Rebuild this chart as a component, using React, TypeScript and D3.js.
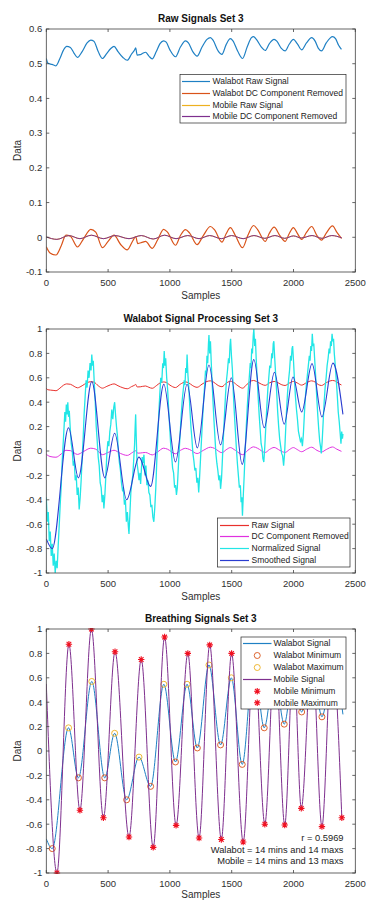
import React from 'react';
import * as d3 from 'd3';

type Pt = [number, number];

const FONT = '"Liberation Sans", Arial, Helvetica, sans-serif';

// ---------- ticks ----------
const xTicks = [0, 500, 1000, 1500, 2000, 2500];
const yTicksRaw = [-0.1, 0, 0.1, 0.2, 0.3, 0.4, 0.5, 0.6];
const yTicksUnit = [-1, -0.8, -0.6, -0.4, -0.2, 0, 0.2, 0.4, 0.6, 0.8, 1];

// ---------- titles / legends ----------
const titles = ['Raw Signals Set 3', 'Walabot Signal Processing Set 3', 'Breathing Signals Set 3'];
const legend1 = ['Walabot Raw Signal', 'Walabot DC Component Removed', 'Mobile Raw Signal', 'Mobile DC Component Removed'];
const legend2 = ['Raw Signal', 'DC Component Removed', 'Normalized Signal', 'Smoothed Signal'];
const legend3 = ['Walabot Signal', 'Walabot Minimum', 'Walabot Maximum', 'Mobile Signal', 'Mobile Minimum', 'Mobile Maximum'];
const annotations = ['r = 0.5969', 'Walabot = 14 mins and 14 maxs', 'Mobile = 14 mins and 13 maxs'];

// ---------- data ----------
const walabotRaw: Pt[] = [
  [0, 0.515], [12, 0.502], [35, 0.499], [55, 0.497], [78, 0.494], [110, 0.515], [140, 0.540], [165, 0.550],
  [195, 0.547], [225, 0.530], [252, 0.518], [290, 0.535], [330, 0.560], [360, 0.568], [385, 0.565], [420, 0.535],
  [454, 0.515], [490, 0.530], [520, 0.543], [548, 0.550], [580, 0.535], [620, 0.518], [655, 0.510], [690, 0.528],
  [715, 0.540], [723, 0.546], [735, 0.525], [760, 0.526], [780, 0.530], [803, 0.533], [830, 0.522], [857, 0.514],
  [890, 0.535], [920, 0.558], [949, 0.566], [970, 0.562], [1000, 0.540], [1045, 0.520], [1085, 0.548], [1126, 0.566],
  [1150, 0.560], [1185, 0.535], [1220, 0.522], [1260, 0.548], [1300, 0.570], [1328, 0.575], [1350, 0.567], [1390, 0.537],
  [1421, 0.527], [1455, 0.555], [1489, 0.572], [1510, 0.566], [1550, 0.535], [1588, 0.515], [1625, 0.548], [1660, 0.575],
  [1677, 0.578], [1700, 0.570], [1740, 0.548], [1771, 0.538], [1805, 0.558], [1843, 0.570], [1865, 0.565], [1900, 0.545],
  [1932, 0.537], [1965, 0.556], [1999, 0.570], [2030, 0.558], [2066, 0.540], [2105, 0.560], [2147, 0.575], [2175, 0.565],
  [2200, 0.545], [2227, 0.537], [2265, 0.560], [2316, 0.578], [2340, 0.572], [2365, 0.553], [2388, 0.541],
];

const walabotDc: Pt[] = [
  [0, -0.027], [30, -0.045], [78, -0.051], [120, -0.025], [159, 0.006], [195, 0.003], [252, -0.028], [300, -0.005],
  [360, 0.023], [400, 0.015], [454, -0.030], [500, -0.012], [548, 0.006], [600, -0.020], [655, -0.036], [700, -0.010],
  [723, 0.002], [740, -0.018], [780, -0.014], [803, -0.012], [857, -0.032], [900, -0.008], [949, 0.023], [980, 0.015],
  [1045, -0.023], [1085, 0.005], [1126, 0.022], [1160, 0.012], [1220, -0.021], [1270, 0.005], [1328, 0.031], [1360, 0.022],
  [1421, -0.014], [1455, 0.010], [1489, 0.028], [1530, 0.005], [1588, -0.030], [1630, 0.005], [1677, 0.034], [1710, 0.022],
  [1771, -0.012], [1805, 0.012], [1843, 0.029], [1890, 0.005], [1932, -0.012], [1965, 0.010], [1999, 0.028], [2030, 0.012],
  [2066, -0.006], [2105, 0.014], [2147, 0.031], [2190, 0.005], [2227, -0.008], [2265, 0.012], [2316, 0.033], [2350, 0.015],
  [2388, -0.003],
];

const mobileDc: Pt[] = [
  [0, 0.001], [86, -0.006], [183, 0.005], [272, -0.004], [365, 0.006], [462, -0.004], [556, 0.005], [669, -0.004],
  [768, 0.005], [865, -0.005], [957, 0.006], [1050, -0.004], [1145, 0.005], [1236, -0.004], [1322, 0.005], [1416, -0.004],
  [1499, 0.005], [1593, -0.004], [1680, 0.005], [1768, -0.003], [1850, 0.005], [1929, -0.003], [2000, 0.004], [2063, -0.002],
  [2150, 0.005], [2230, -0.003], [2310, 0.005], [2391, -0.002],
];

const mobileRaw: Pt[] = mobileDc;

const normalized: Pt[] = [
  [0, -0.38], [8, -0.58], [16, -0.5], [24, -0.74], [32, -0.66], [40, -0.86], [48, -0.76], [56, -0.94], [64, -0.84],
  [72, -1.0], [80, -0.9], [88, -0.96], [96, -0.78], [104, -0.62], [112, -0.45], [120, -0.3], [128, -0.1], [136, 0.05],
  [144, 0.2], [150, 0.32], [156, 0.24], [162, 0.38], [168, 0.3], [174, 0.4], [180, 0.28], [186, 0.33], [194, 0.18],
  [202, 0.06], [210, 0.0], [218, -0.12], [226, -0.08], [234, -0.24], [242, -0.2], [250, -0.36], [258, -0.3], [266, -0.48],
  [274, -0.38], [282, -0.24], [290, -0.06], [298, 0.1], [306, 0.3], [314, 0.44], [322, 0.58], [330, 0.52], [338, 0.66],
  [346, 0.6], [354, 0.72], [362, 0.66], [368, 0.79], [374, 0.7], [380, 0.74], [388, 0.56], [396, 0.4], [404, 0.2],
  [412, 0.08], [420, -0.05], [428, -0.12], [436, -0.26], [444, -0.3], [452, -0.42], [460, -0.36], [466, -0.47],
  [474, -0.36], [482, -0.2], [490, -0.02], [498, 0.08], [506, 0.04], [514, 0.16], [522, 0.22], [530, 0.34], [538, 0.26],
  [546, 0.36], [553, 0.4], [560, 0.3], [568, 0.2], [576, 0.12], [584, -0.02], [592, -0.1], [600, -0.16], [608, -0.26],
  [616, -0.32], [624, -0.3], [632, -0.44], [640, -0.4], [648, -0.58], [656, -0.5], [664, -0.62], [669, -0.68], [676, -0.52],
  [684, -0.34], [692, -0.26], [700, -0.2], [708, -0.06], [714, 0.05], [719, 0.2], [723, 0.3], [728, 0.1], [734, -0.1],
  [742, -0.16], [750, -0.24], [758, -0.18], [763, -0.27], [770, -0.14], [776, -0.05], [782, -0.1], [790, -0.03],
  [798, -0.2], [806, -0.12], [814, -0.28], [822, -0.24], [830, -0.34], [838, -0.36], [846, -0.46], [854, -0.44],
  [862, -0.54], [870, -0.58], [878, -0.46], [886, -0.3], [894, -0.08], [902, 0.1], [910, 0.3], [918, 0.46], [926, 0.6],
  [934, 0.56], [942, 0.72], [948, 0.68], [954, 0.82], [960, 0.7], [966, 0.76], [974, 0.6], [982, 0.5], [990, 0.34],
  [998, 0.2], [1006, 0.06], [1014, -0.04], [1022, -0.14], [1030, -0.18], [1038, -0.3], [1046, -0.28], [1053, -0.36],
  [1060, -0.3], [1068, -0.14], [1076, 0.02], [1084, 0.16], [1092, 0.3], [1100, 0.42], [1108, 0.5], [1116, 0.58],
  [1122, 0.54], [1128, 0.68], [1134, 0.64], [1139, 0.79], [1146, 0.62], [1154, 0.5], [1162, 0.34], [1170, 0.2],
  [1178, 0.1], [1186, -0.02], [1194, -0.08], [1202, -0.16], [1210, -0.14], [1218, -0.26], [1226, -0.22], [1233, -0.34],
  [1240, -0.22], [1248, -0.06], [1256, 0.1], [1264, 0.26], [1272, 0.4], [1280, 0.52], [1288, 0.66], [1294, 0.62],
  [1300, 0.78], [1306, 0.72], [1312, 0.88], [1316, 0.95], [1322, 0.8], [1328, 0.9], [1334, 0.74], [1340, 0.6],
  [1348, 0.42], [1356, 0.26], [1364, 0.12], [1372, -0.02], [1380, -0.1], [1388, -0.16], [1396, -0.24], [1404, -0.2],
  [1410, -0.31], [1418, -0.22], [1426, -0.04], [1434, 0.14], [1442, 0.3], [1450, 0.46], [1458, 0.58], [1466, 0.66],
  [1474, 0.76], [1480, 0.72], [1486, 0.86], [1491, 0.92], [1498, 0.78], [1506, 0.66], [1514, 0.46], [1522, 0.3],
  [1530, 0.16], [1538, 0.02], [1546, -0.1], [1554, -0.2], [1562, -0.3], [1570, -0.28], [1576, -0.42], [1582, -0.38],
  [1587, -0.53], [1594, -0.36], [1602, -0.18], [1610, 0.02], [1618, 0.2], [1626, 0.36], [1634, 0.5], [1642, 0.6],
  [1650, 0.72], [1656, 0.68], [1662, 0.84], [1668, 0.8], [1674, 0.94], [1679, 1.0], [1686, 0.86], [1692, 0.92],
  [1698, 0.76], [1706, 0.6], [1714, 0.44], [1722, 0.3], [1730, 0.18], [1738, 0.06], [1746, 0.02], [1752, -0.06],
  [1760, -0.09], [1768, 0.04], [1776, 0.2], [1784, 0.36], [1792, 0.5], [1800, 0.6], [1808, 0.7], [1816, 0.68],
  [1824, 0.8], [1830, 0.76], [1836, 0.88], [1841, 0.9], [1848, 0.76], [1856, 0.62], [1864, 0.48], [1872, 0.32],
  [1880, 0.2], [1888, 0.1], [1896, 0.04], [1904, -0.02], [1912, -0.04], [1920, -0.12], [1928, -0.02], [1936, 0.16],
  [1944, 0.34], [1952, 0.48], [1960, 0.58], [1968, 0.66], [1976, 0.78], [1982, 0.74], [1988, 0.84], [1993, 0.86],
  [2000, 0.74], [2008, 0.58], [2016, 0.44], [2024, 0.34], [2032, 0.26], [2040, 0.16], [2048, 0.12], [2056, 0.08],
  [2064, 0.1], [2072, 0.04], [2080, 0.14], [2088, 0.3], [2096, 0.44], [2104, 0.54], [2112, 0.62], [2120, 0.7],
  [2128, 0.78], [2134, 0.74], [2140, 0.86], [2146, 0.82], [2152, 0.96], [2158, 0.86], [2164, 0.88], [2172, 0.74],
  [2180, 0.6], [2188, 0.44], [2196, 0.3], [2204, 0.18], [2212, 0.08], [2218, 0.04], [2225, -0.02], [2232, 0.08],
  [2240, 0.24], [2248, 0.4], [2256, 0.52], [2264, 0.6], [2272, 0.7], [2280, 0.76], [2288, 0.84], [2294, 0.8],
  [2300, 0.9], [2306, 0.86], [2312, 0.96], [2318, 0.9], [2324, 0.92], [2330, 0.8], [2338, 0.7], [2346, 0.58],
  [2354, 0.46], [2362, 0.32], [2370, 0.24], [2378, 0.14], [2384, 0.06], [2390, 0.16], [2396, 0.1], [2400, 0.14],
];

const smoothed: Pt[] = [
  [0, -0.72], [48, -0.80], [180, 0.19], [260, -0.22], [368, 0.57], [473, -0.22], [553, 0.145], [650, -0.40],
  [750, -0.05], [844, -0.29], [951, 0.547], [1045, -0.09], [1139, 0.547], [1222, 0.025], [1316, 0.705], [1410, 0.05],
  [1497, 0.60], [1585, -0.11], [1679, 0.75], [1763, 0.19], [1846, 0.645], [1925, 0.22], [1996, 0.607], [2066, 0.32],
  [2150, 0.716], [2230, 0.28], [2319, 0.72], [2400, 0.30],
];

const walabotMinima: Pt[] = [
  [48, -0.80], [260, -0.22], [473, -0.22], [650, -0.40], [844, -0.29], [1045, -0.09], [1222, 0.025], [1410, 0.05],
  [1585, -0.11], [1763, 0.19], [1925, 0.22], [2066, 0.32], [2230, 0.28],
];
const walabotMaxima: Pt[] = [
  [180, 0.19], [368, 0.57], [553, 0.145], [750, -0.05], [951, 0.547], [1139, 0.547], [1316, 0.705], [1497, 0.60],
  [1679, 0.75], [1846, 0.645], [1996, 0.607], [2150, 0.716], [2319, 0.72],
];

const mobileSignal: Pt[] = [
  [0, 0.55], [86, -1.0], [183, 0.875], [272, -0.486], [365, 1.0], [462, -0.547], [556, 0.814], [669, -0.705],
  [768, 0.75], [865, -0.79], [957, 0.934], [1050, -0.61], [1145, 0.80], [1236, -0.713], [1322, 0.87], [1416, -0.725],
  [1499, 0.80], [1593, -0.746], [1680, 0.85], [1768, -0.60], [1850, 0.85], [1929, -0.607], [2000, 0.80], [2063, -0.47],
  [2150, 0.85], [2230, -0.62], [2310, 0.85], [2391, -0.547],
];
const mobileMinima: Pt[] = [
  [86, -1.0], [272, -0.486], [462, -0.547], [669, -0.705], [865, -0.79], [1050, -0.61], [1236, -0.713], [1416, -0.725],
  [1593, -0.746], [1768, -0.60], [1929, -0.607], [2063, -0.47], [2230, -0.62], [2391, -0.547],
];
const mobileMaxima: Pt[] = [
  [183, 0.875], [365, 1.0], [556, 0.814], [768, 0.75], [957, 0.934], [1145, 0.80], [1322, 0.87], [1499, 0.80],
  [1680, 0.85], [1850, 0.85], [2000, 0.80], [2150, 0.85], [2310, 0.85],
];

// ---------- styles ----------
const C = {
  blue: '#1f80c4', orange: '#D95319', yellow: '#EDB120', purple: '#7E2F8E',
  red: '#e8302c', magenta: '#e030e0', cyan: '#22e6e6', dblue: '#2a3cd0', star: '#f01020',
  axis: '#404040', text: '#303030',
};

const X0 = 46.3, X1 = 355.3;
const x = d3.scaleLinear().domain([0, 2500]).range([X0, X1]);

const fmt = (v: number) => {
  const s = String(+v.toFixed(1));
  return s === '-0' ? '0' : s;
};

function starPath(cx: number, cy: number, s: number) {
  const d = s * 0.72;
  return `M${cx - s},${cy}L${cx + s},${cy}M${cx},${cy - s}L${cx},${cy + s}M${cx - d},${cy - d}L${cx + d},${cy + d}M${cx - d},${cy + d}L${cx + d},${cy - d}`;
}

function Axes({ top, bottom, y, yTicks, title, id, children }: any) {
  const mid = (top + bottom) / 2;
  return (
    <g>
      <defs>
        <clipPath id={id}>
          <rect x={X0} y={top - 1} width={X1 - X0} height={bottom - top + 2} />
        </clipPath>
      </defs>
      <rect x={X0} y={top} width={X1 - X0} height={bottom - top} fill="#fff" />
      <g clipPath={`url(#${id})`}>{children}</g>
      <rect x={X0} y={top} width={X1 - X0} height={bottom - top} fill="none" stroke={C.axis} strokeWidth={0.8} />
      {xTicks.map((t) => (
        <g key={'x' + t}>
          <line x1={x(t)} x2={x(t)} y1={bottom} y2={bottom - 3} stroke={C.axis} strokeWidth={0.8} />
          <line x1={x(t)} x2={x(t)} y1={top} y2={top + 3} stroke={C.axis} strokeWidth={0.8} />
          <text x={x(t)} y={bottom + 14} textAnchor="middle" fontSize={9.5} fill={C.text}>{t}</text>
        </g>
      ))}
      {yTicks.map((t: number) => (
        <g key={'y' + t}>
          <line x1={X0} x2={X0 + 3} y1={y(t)} y2={y(t)} stroke={C.axis} strokeWidth={0.8} />
          <line x1={X1} x2={X1 - 3} y1={y(t)} y2={y(t)} stroke={C.axis} strokeWidth={0.8} />
          <text x={X0 - 4} y={y(t)} dy="0.35em" textAnchor="end" fontSize={9.5} fill={C.text}>{fmt(t)}</text>
        </g>
      ))}
      <text x={(X0 + X1) / 2} y={top - 7} textAnchor="middle" fontSize={10} fontWeight="bold" fill="#111">{title}</text>
      <text x={(X0 + X1) / 2} y={Math.min(bottom + 27, 898)} textAnchor="middle" fontSize={10} fill={C.text}>Samples</text>
      <text transform={`translate(21,${mid}) rotate(-90)`} textAnchor="middle" fontSize={10} fill={C.text}>Data</text>
    </g>
  );
}

function Legend({ x0, y0, w, h, rows, lineX0, lineX1, textX }: any) {
  return (
    <g>
      <rect x={x0} y={y0} width={w} height={h} fill="#fff" stroke="#262626" strokeWidth={0.7} />
      {rows.map((r: any, i: number) => {
        const cx = (lineX0 + lineX1) / 2;
        return (
          <g key={i}>
            {r.kind === 'line' && <line x1={lineX0} x2={lineX1} y1={r.y} y2={r.y} stroke={r.color} strokeWidth={1.2} />}
            {r.kind === 'circle' && <circle cx={cx} cy={r.y} r={3} fill="none" stroke={r.color} strokeWidth={0.9} />}
            {r.kind === 'star' && <path d={starPath(cx, r.y, 3.2)} stroke={r.color} strokeWidth={1.1} fill="none" />}
            <text x={textX} y={r.y} dy="0.35em" fontSize={8.5} fill="#222">{r.label}</text>
          </g>
        );
      })}
    </g>
  );
}

export default function App() {
  const y1 = d3.scaleLinear().domain([-0.1, 0.6]).range([272, 29]);
  const y2 = d3.scaleLinear().domain([-1, 1]).range([573, 329]);
  const y3 = d3.scaleLinear().domain([-1, 1]).range([873, 629]);

  const mk = (ys: any, curve: any = d3.curveMonotoneX) =>
    d3.line<Pt>().x((d) => x(d[0])).y((d) => ys(d[1])).curve(curve);

  const l1 = mk(y1);
  const l2 = mk(y2);
  const l2lin = mk(y2, d3.curveLinear);
  const l3 = mk(y3);

  return (
    <svg width={366} height={900} style={{ position: 'absolute', left: 0, top: 0, background: '#fff' }} fontFamily={FONT}>
      <rect x={0} y={0} width={366} height={900} fill="#fff" />

      {/* Panel 1 */}
      <Axes top={29} bottom={272} y={y1} yTicks={yTicksRaw} title={titles[0]} id="c1">
        <path d={l1(walabotRaw) || ''} fill="none" stroke={C.blue} strokeWidth={1.2} />
        <path d={l1(walabotDc) || ''} fill="none" stroke={C.orange} strokeWidth={1.2} />
        <path d={l1(mobileRaw) || ''} fill="none" stroke={C.yellow} strokeWidth={1} />
        <path d={l1(mobileDc) || ''} fill="none" stroke={C.purple} strokeWidth={1} />
      </Axes>
      <Legend x0={180} y0={74.5} w={166} h={48.5} lineX0={182} lineX1={210} textX={212.5}
        rows={[
          { kind: 'line', color: C.blue, y: 81.5, label: legend1[0] },
          { kind: 'line', color: C.orange, y: 93.5, label: legend1[1] },
          { kind: 'line', color: C.yellow, y: 105.5, label: legend1[2] },
          { kind: 'line', color: C.purple, y: 116.5, label: legend1[3] },
        ]} />

      {/* Panel 2 */}
      <Axes top={329} bottom={573} y={y2} yTicks={yTicksUnit} title={titles[1]} id="c2">
        <path d={l2(walabotRaw) || ''} fill="none" stroke={C.red} strokeWidth={1} />
        <path d={l2(walabotDc) || ''} fill="none" stroke={C.magenta} strokeWidth={1} />
        <path d={l2lin(normalized) || ''} fill="none" stroke={C.cyan} strokeWidth={1.3} />
        <path d={l2(smoothed) || ''} fill="none" stroke={C.dblue} strokeWidth={1.1} />
      </Axes>
      <Legend x0={217.5} y0={518} w={132.5} h={49} lineX0={220} lineX1={249} textX={251.5}
        rows={[
          { kind: 'line', color: C.red, y: 525.5, label: legend2[0] },
          { kind: 'line', color: C.magenta, y: 536.5, label: legend2[1] },
          { kind: 'line', color: C.cyan, y: 548.5, label: legend2[2] },
          { kind: 'line', color: C.dblue, y: 560.5, label: legend2[3] },
        ]} />

      {/* Panel 3 */}
      <Axes top={629} bottom={873} y={y3} yTicks={yTicksUnit} title={titles[2]} id="c3">
        <path d={l3(smoothed) || ''} fill="none" stroke={C.blue} strokeWidth={1} />
        {walabotMinima.map((d, i) => (
          <circle key={'wn' + i} cx={x(d[0])} cy={y3(d[1])} r={3} fill="none" stroke={C.orange} strokeWidth={0.9} />
        ))}
        {walabotMaxima.map((d, i) => (
          <circle key={'wx' + i} cx={x(d[0])} cy={y3(d[1])} r={3} fill="none" stroke={C.yellow} strokeWidth={0.9} />
        ))}
        <path d={l3(mobileSignal) || ''} fill="none" stroke={C.purple} strokeWidth={1} />
        {mobileMinima.map((d, i) => (
          <path key={'mn' + i} d={starPath(x(d[0]), y3(d[1]), 3.2)} stroke={C.star} strokeWidth={1.1} fill="none" />
        ))}
        {mobileMaxima.map((d, i) => (
          <path key={'mx' + i} d={starPath(x(d[0]), y3(d[1]), 3.2)} stroke={C.star} strokeWidth={1.1} fill="none" />
        ))}
      </Axes>
      <Legend x0={241} y0={637} w={105} h={72} lineX0={243} lineX1={271.5} textX={273.5}
        rows={[
          { kind: 'line', color: C.blue, y: 643.5, label: legend3[0] },
          { kind: 'circle', color: C.orange, y: 655.5, label: legend3[1] },
          { kind: 'circle', color: C.yellow, y: 667.5, label: legend3[2] },
          { kind: 'line', color: C.purple, y: 679.5, label: legend3[3] },
          { kind: 'star', color: C.star, y: 691.2, label: legend3[4] },
          { kind: 'star', color: C.star, y: 702.8, label: legend3[5] },
        ]} />
      {annotations.map((a, i) => (
        <text key={a} x={343.5} y={838 + i * 11.6} dy="0.35em" textAnchor="end" fontSize={9.3} fill="#222">{a}</text>
      ))}
    </svg>
  );
}
